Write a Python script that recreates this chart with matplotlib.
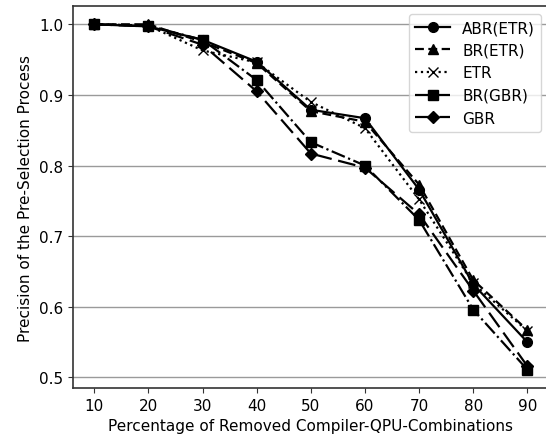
import matplotlib
matplotlib.use("Agg")
import matplotlib.pyplot as plt

x = [10, 20, 30, 40, 50, 60, 70, 80, 90]
abr_etr = [1.0, 0.997, 0.978, 0.947, 0.879, 0.867, 0.766, 0.632, 0.550]
br_etr = [1.0, 1.0, 0.975, 0.945, 0.877, 0.862, 0.773, 0.638, 0.567]
etr = [1.0, 0.998, 0.963, 0.946, 0.890, 0.853, 0.752, 0.633, 0.566]
br_gbr = [1.0, 0.998, 0.978, 0.921, 0.833, 0.800, 0.723, 0.596, 0.511]
gbr = [1.0, 0.997, 0.971, 0.905, 0.817, 0.797, 0.731, 0.623, 0.516]

labels = ["ABR(ETR)", "BR(ETR)", "ETR", "BR(GBR)", "GBR"]

plt.rcParams['font.family'] = ['DejaVu Sans']
plt.rcParams['font.size'] = 11

fig = plt.figure(figsize=(5.46, 4.39), dpi=100)
ax = fig.add_axes([72.7/546, 1-389/439, (549-72.7)/546, (389-7.3)/439])

ax.plot(x, abr_etr, color='black', linestyle='-', marker='o', markersize=7, lw=1.6, label=labels[0])
ax.plot(x, br_etr, color='black', linestyle=(0, (4, 2)), marker='^', markersize=7, lw=1.6, label=labels[1])
ax.plot(x, etr, color='black', linestyle=':', marker='x', markersize=7, lw=1.6, label=labels[2])
ax.plot(x, br_gbr, color='black', linestyle='-.', marker='s', markersize=7, lw=1.6, label=labels[3])
ax.plot(x, gbr, color='black', linestyle=(0, (8, 3)), marker='D', markersize=6.5, lw=1.6, label=labels[4])

ax.set_xlim(6, 94)
ax.set_ylim(0.485, 1.0255)
ax.set_xticks(x)
ax.set_yticks([0.5, 0.6, 0.7, 0.8, 0.9, 1.0])
ax.yaxis.grid(True, color='#9a9a9a', lw=1.0)
ax.set_axisbelow(True)
for s in ax.spines.values():
    s.set_color('#333333')
    s.set_linewidth(1.2)
ax.tick_params(colors='#333333', labelcolor='black')

ax.set_xlabel("Percentage of Removed Compiler-QPU-Combinations")
ax.set_ylabel("Precision of the Pre-Selection Process")
ax.legend(loc='upper right', handlelength=2.3)

fig.savefig("out.png", dpi=100)
